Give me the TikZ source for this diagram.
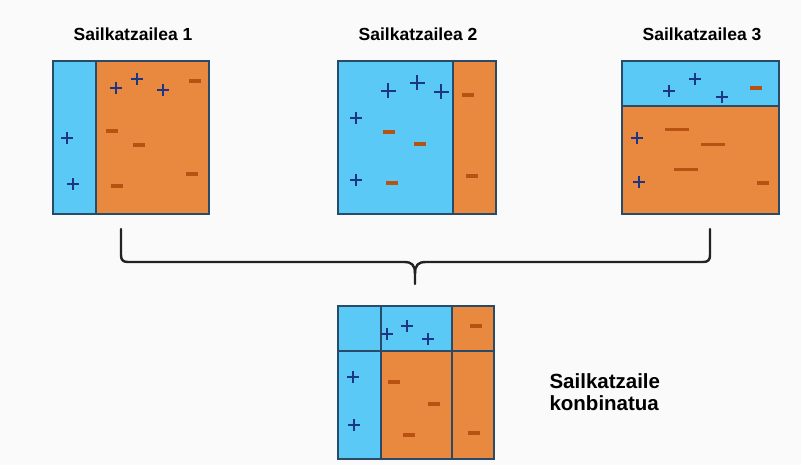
\documentclass[tikz,border=0pt]{standalone}
\usepackage{fontspec}
\setmainfont{Liberation Sans}
\begin{document}
\definecolor{bluefill}{HTML}{5BC9F6}
\definecolor{orangefill}{HTML}{E8893F}
\definecolor{edgecol}{HTML}{2A4B68}
\definecolor{pluscol}{HTML}{1C3585}
\definecolor{minuscol}{HTML}{B85212}
\definecolor{bgcol}{HTML}{FAFAFA}
\definecolor{bracecol}{HTML}{222222}
\begin{tikzpicture}[x=1pt,y=-1pt,
  cellblue/.style={fill=bluefill,draw=edgecol,line width=1.4pt},
  cellorange/.style={fill=orangefill,draw=edgecol,line width=1.4pt},
  plusline/.style={draw=pluscol,line width=2.2pt},
  minusline/.style={draw=minuscol,line width=3.8pt},
  title/.style={font=\bfseries\fontsize{17.5}{20}\selectfont,text=black},
  pls/.pic={\draw[plusline] (-6,0)--(6,0) (0,-6)--(0,6);},
  bigpls/.pic={\draw[plusline,line width=2.8pt] (-7.5,0)--(7.5,0) (0,-7.5)--(0,7.5);},
  mns/.pic={\draw[minusline] (-6,0)--(6,0);},
  longmns/.pic={\draw[minusline,line width=3pt] (-12,0)--(12,0);},
  brace/.style={draw=bracecol,line width=2.4pt,line cap=round,line join=round}]
\fill[bgcol] (0,0) rectangle (801,465);
\useasboundingbox (0,0) rectangle (801,465);

% titles
\node[title] (t1) at (133,34) {Sailkatzailea 1};
\node[title] (t2) at (418,34) {Sailkatzailea 2};
\node[title] (t3) at (702,34) {Sailkatzailea 3};

% classifier 1: narrow positive strip on the left
\draw[cellorange] (96,61) rectangle (209,214);
\draw[cellblue] (53,61) rectangle (96,214);
\pic at (116,88) {pls}; \pic at (137,79) {pls}; \pic at (163,90) {pls};
\pic at (67,138) {pls}; \pic at (73,184) {pls};
\pic at (195,81) {mns}; \pic at (112,131) {mns}; \pic at (139,145) {mns};
\pic at (117,186) {mns}; \pic at (192,174) {mns};

% classifier 2: wide positive region, negative strip on the right
\draw[cellblue] (338,61) rectangle (453,214);
\draw[cellorange] (453,61) rectangle (496,214);
\pic at (388,91) {bigpls}; \pic at (417,83) {bigpls}; \pic at (441,92) {bigpls};
\pic at (356,118) {pls}; \pic at (356,180) {pls};
\pic at (389,132) {mns}; \pic at (420,144) {mns}; \pic at (392,183) {mns};
\pic at (468,95) {mns}; \pic at (472,176) {mns};

% classifier 3: positive band on top
\draw[cellorange] (622,106) rectangle (779,214);
\draw[cellblue] (622,61) rectangle (779,106);
\pic at (669,91) {pls}; \pic at (695,79) {pls}; \pic at (722,97) {pls};
\pic at (637,138) {pls}; \pic at (639,182) {pls};
\pic at (756,88) {mns}; \pic at (763,183) {mns};
\pic at (677,130) {longmns}; \pic at (713,145) {longmns}; \pic at (686,170) {longmns};

% brace joining the three classifiers
\coordinate (bl) at (121,229);
\coordinate (br) at (710,229);
\coordinate (bm) at (415,284);
\draw[brace] (bl) -- (121,255) .. controls (121,260) and (123,262) .. (128,262)
  -- (404,262) .. controls (412,262) and (415,265) .. (415,274) -- (bm);
\draw[brace] (br) -- (710,255) .. controls (710,260) and (708,262) .. (703,262)
  -- (426,262) .. controls (418,262) and (415,265) .. (415,274);

% combined classifier
\draw[cellblue] (338,306) rectangle (381,351);
\draw[cellblue] (381,306) rectangle (452,351);
\draw[cellorange] (452,306) rectangle (494,351);
\draw[cellblue] (338,351) rectangle (381,459);
\draw[cellorange] (381,351) rectangle (452,459);
\draw[cellorange] (452,351) rectangle (494,459);
\pic at (387,334) {pls}; \pic at (407,326) {pls}; \pic at (428,339) {pls};
\pic at (353,377) {pls}; \pic at (354,425) {pls};
\pic at (476,326) {mns}; \pic at (394,382) {mns}; \pic at (434,404) {mns};
\pic at (409,435) {mns}; \pic at (474,433) {mns};

\node[font=\bfseries\fontsize{20.5}{22}\selectfont,align=left,anchor=west] (comb) at (546,392)
  {Sailkatzaile\\konbinatua};
\end{tikzpicture}
\end{document}
